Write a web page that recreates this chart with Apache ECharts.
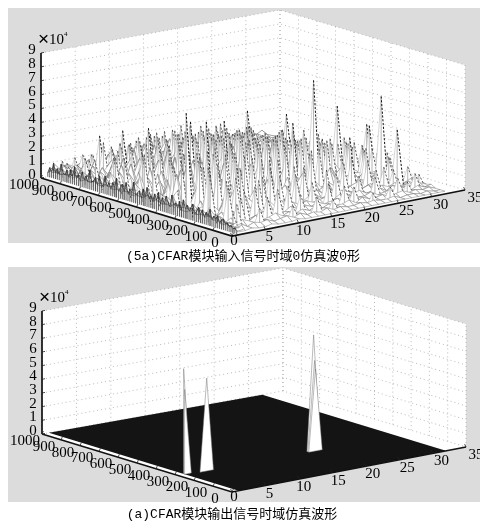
<!DOCTYPE html>
<html><head><meta charset="utf-8">
<style>html,body{margin:0;padding:0;background:#fff}#c{width:480px;height:522px;filter:blur(0.5px)}</style>
<script src="https://cdn.jsdelivr.net/npm/echarts@6/dist/echarts.min.js"></script>
</head><body><div id="c"></div>
<script>
const xTicks=[0,5,10,15,20,25,30,35];
const yTicks=[0,100,200,300,400,500,600,700,800,900,1000];
const zTicks=[0,1,2,3,4,5,6,7,8,9];
const captionTop='(5a)CFAR模块输入信号时域0仿真波0形';
const captionBottom='(a)CFAR模块输出信号时域仿真波形';
const rowStep=25;
// Input surface: rows run from y=1000 down to y=0, columns x=1..32, values ×10^4
const inputRows=[
[.3,.5,.2,.6,.4,.3,.7,.4,.5,.3,.6,.8,.4,.5,.7,.3,.6,.4,.8,.5,.4,.7,.6,.3,.9,.5,.4,.6,.8,.4,.5,.3],
[.6,.3,.8,.4,.7,.5,.3,.9,.4,.6,1.0,.5,.7,.4,.9,.6,.5,1.1,.4,.8,.6,.5,1.0,.7,.4,.8,.6,.9,.3,.7,.4,.5],
[.4,.9,.5,.7,.3,1.1,.6,.5,1.2,.7,.4,1.3,.8,.6,1.1,.5,1.4,.7,.9,.5,1.2,.8,.4,1.1,.7,.5,1.0,.4,.8,.6,.9,.4],
[.8,.4,1.0,.5,1.2,.6,.9,1.4,.5,1.1,.8,.6,1.6,.7,.5,1.3,.9,.6,1.5,.8,.7,1.2,.6,.9,1.3,.7,.5,1.1,.6,.4,.7,.5],
[.5,1.1,.6,1.3,.7,1.5,.6,.8,1.7,.7,1.3,.9,.6,1.8,1.0,.7,1.2,1.6,.6,1.1,1.4,.7,1.0,.6,.8,1.2,.9,.5,1.0,.7,.5,.6],
[1.0,.6,1.4,.7,.9,.8,1.8,.6,1.1,1.5,.7,2.0,1.1,.8,1.4,.9,.7,1.9,1.0,.7,.9,1.5,.8,1.3,.6,.9,.7,1.2,.5,.8,.6,.4],
[.6,1.3,.8,1.6,1.0,1.3,.7,1.9,.9,.7,2.1,1.0,1.6,.8,.7,1.8,1.2,.9,.7,1.6,1.1,.8,1.7,.7,1.2,.7,1.0,.6,.9,.5,.7,.5],
[1.2,.7,1.7,.8,2.0,.9,1.5,1.0,2.2,1.3,.8,1.5,.9,2.3,1.2,.9,1.5,.8,2.0,.9,1.3,1.0,.7,1.4,.9,1.1,.6,.8,.7,1.0,.4,.6],
[.7,1.5,1.0,1.2,.8,2.0,1.1,.9,1.6,2.4,1.0,.8,1.9,1.1,1.7,.9,2.2,1.0,.8,1.4,.9,1.8,1.1,.7,1.5,.8,.9,1.1,.6,.7,.8,.5],
[1.4,.9,1.2,1.8,1.1,.8,2.3,1.4,.9,1.1,1.7,2.5,.9,1.2,.8,2.4,1.0,1.6,1.2,.9,1.9,.7,1.3,1.0,.8,1.3,.7,.6,1.0,.5,.6,.4],
[.8,1.6,.9,2.1,1.1,1.5,.9,1.9,1.3,.9,2.0,1.0,1.4,2.6,1.1,.9,1.8,1.2,2.1,.8,1.1,1.5,.9,1.2,1.0,.7,1.2,.8,.7,.9,.5,.6],
[1.5,1.0,2.2,.9,1.3,2.6,1.0,1.2,2.7,1.0,1.4,.9,2.3,1.0,1.9,1.3,1.0,2.5,.9,1.6,1.0,1.2,1.9,.8,.9,1.4,.6,1.0,.8,.6,.7,.5],
[.9,1.9,1.2,1.6,2.4,.9,1.7,1.1,.9,2.8,1.2,1.9,1.0,1.5,.9,2.2,1.3,.9,1.7,1.1,2.4,1.2,1.0,1.3,1.6,.9,1.1,.7,.9,.8,.5,.6],
[1.7,1.0,2.5,1.1,.9,2.1,1.2,2.9,1.3,1.0,1.8,1.1,2.7,1.0,1.2,1.8,.9,2.3,1.1,1.4,1.0,.9,1.7,1.0,.8,1.5,.7,.9,1.2,.6,.8,.4],
[1.0,2.2,1.1,1.9,1.4,1.2,1.0,1.5,2.2,1.2,3.0,1.0,1.4,2.1,1.1,2.9,1.2,1.0,1.9,1.2,1.6,1.1,1.0,2.0,1.1,.8,1.3,.9,.7,1.0,.5,.6],
[1.9,1.1,1.4,2.6,1.0,1.7,2.8,1.1,1.9,1.0,1.3,2.5,1.1,3.1,1.3,1.0,2.0,1.4,1.0,2.6,1.0,1.3,1.9,.9,1.2,1.5,.8,1.1,.6,.9,.7,.5],
[1.1,2.5,1.0,1.6,3.0,1.2,1.0,2.3,1.3,3.2,1.0,1.7,1.1,1.4,2.4,1.1,1.7,1.2,2.2,1.0,1.3,2.1,1.1,1.4,1.0,.9,1.0,1.3,.8,.7,.9,.4],
[2.0,1.2,2.7,1.1,1.3,2.0,1.3,3.0,1.0,1.2,2.6,1.1,2.0,1.0,1.3,2.8,1.0,1.6,1.1,1.7,2.7,1.0,1.2,1.8,1.0,1.3,.8,.7,1.1,.6,.8,.5],
[1.2,1.8,1.3,2.2,1.0,3.3,1.1,1.4,2.1,1.3,1.0,3.4,1.2,2.3,1.1,1.5,2.1,1.1,3.0,1.1,1.0,1.6,2.3,1.0,1.1,1.6,.9,1.2,.7,1.0,.6,.7],
[2.3,1.1,1.6,2.9,1.3,1.1,2.4,1.0,1.7,2.8,1.3,1.1,2.0,1.0,2.9,1.2,1.0,2.4,1.2,1.0,2.0,1.2,1.0,2.6,.9,1.0,1.3,.8,1.0,.7,.5,.6],
[1.0,2.6,1.2,1.5,2.0,1.3,3.1,1.2,1.1,1.2,3.0,1.4,1.1,1.2,1.9,1.1,3.3,1.3,1.0,2.1,1.1,1.8,1.2,1.0,1.7,1.1,.7,1.4,.8,.6,.8,.4],
[2.1,1.3,2.4,1.1,3.2,1.0,1.5,1.3,2.5,1.1,1.8,2.6,1.0,1.4,2.6,1.0,1.4,1.8,1.1,2.9,1.2,1.0,1.5,2.2,.9,1.2,1.0,.7,.9,.5,.7,.5],
[1.3,1.9,1.1,2.8,1.2,1.8,2.9,1.0,1.3,3.5,1.1,1.0,1.9,3.0,1.1,1.3,2.3,1.0,1.6,1.1,1.4,2.5,1.0,1.2,1.0,1.8,.8,1.0,.6,.8,.5,.4],
[2.6,1.1,1.5,1.2,2.3,1.1,1.0,2.6,1.2,1.6,1.1,2.4,1.2,1.0,2.1,1.2,1.0,3.1,1.2,1.0,2.2,1.1,1.3,1.0,2.0,.8,1.1,.9,.7,.5,.8,.4],
[1.1,2.2,1.3,1.9,3.4,1.2,2.0,1.1,3.0,1.0,1.4,1.1,2.8,1.3,1.1,3.2,1.4,1.1,1.9,1.3,1.0,1.7,1.1,1.5,1.0,1.2,1.0,.7,1.0,.6,.5,.6],
[2.4,1.0,2.9,1.1,1.2,1.0,2.5,1.3,1.1,2.2,1.0,3.2,1.1,1.6,1.0,1.1,2.2,1.0,1.2,2.4,1.0,1.1,1.9,1.0,1.3,.8,1.0,1.2,.6,.9,.4,.5],
[1.2,1.7,1.0,2.3,1.3,2.8,1.0,1.5,1.9,1.2,2.4,1.0,1.3,2.5,1.0,1.9,1.1,1.3,1.1,1.0,1.3,2.0,1.0,1.1,1.6,.9,.7,1.0,.8,.7,.5,.4],
[3.0,1.2,1.4,1.1,2.6,1.0,1.2,3.1,1.0,1.2,1.0,2.7,1.0,1.1,2.9,1.0,1.4,2.6,1.0,1.2,2.8,1.0,1.2,1.5,.8,1.2,1.0,.7,.9,.5,.7,.4],
[1.0,2.0,1.1,3.3,1.0,1.4,2.2,1.0,1.3,2.5,1.1,1.5,2.1,1.0,1.3,1.1,2.3,1.0,1.6,1.0,1.1,1.3,2.2,.9,1.0,1.1,.7,1.2,.8,.6,.4,.5],
[1.2,1.1,1.8,1.3,1.2,2.6,1.0,1.2,2.9,1.0,1.3,1.0,3.0,1.2,1.0,2.4,1.0,1.2,1.0,1.2,1.0,1.1,1.0,1.5,.8,1.0,.9,.6,.8,.5,.6,.4],
[1.3,2.4,1.0,1.5,1.1,1.0,2.0,1.1,1.0,1.8,2.3,1.1,1.0,1.6,2.6,1.0,1.1,1.8,1.0,1.5,1.0,1.8,.9,1.0,1.2,.7,1.1,.8,.6,.7,.4,.5],
[.8,1.0,2.7,1.1,2.2,1.2,1.0,2.4,1.2,1.0,1.0,2.8,1.1,1.0,1.0,1.3,2.0,1.0,1.1,1.0,2.0,1.0,1.1,1.0,.7,1.2,.7,1.0,.5,.8,.5,.3],
[1.6,.7,1.2,.9,1.0,1.9,1.1,.9,1.6,1.0,2.2,.9,1.0,2.1,.8,1.0,1.0,1.5,.9,1.2,.8,1.0,1.4,.8,.9,.7,1.0,.9,.7,.4,.6,.4],
[.7,1.4,.8,1.8,.9,.8,1.5,1.0,.7,1.1,.8,1.4,1.7,.7,1.0,1.4,.7,.9,1.1,.7,1.3,.8,.7,1.0,.6,1.0,.6,.8,.5,.6,.3,.5],
[1.2,.6,1.5,.7,1.2,1.1,.7,1.3,.9,1.6,.7,.9,.8,1.2,.7,.8,1.1,.7,.8,1.0,.6,.9,1.1,.6,.8,.5,.9,.5,.7,.4,.6,.3],
[.6,1.0,.7,.8,1.4,.6,.9,.7,1.2,.7,1.0,.7,1.1,.6,.9,1.0,.6,.8,.6,.9,.7,.6,.7,.9,.5,.7,.5,.7,.4,.6,.3,.4],
[.9,.5,1.1,.6,.7,1.0,.6,1.0,.6,.8,.6,.9,.6,.8,.6,.7,.8,.5,.8,.6,.7,.8,.5,.6,.7,.4,.7,.4,.6,.3,.5,.3],
[.5,.8,.5,1.0,.5,.7,.8,.5,.7,.5,.8,.5,.7,.5,.7,.5,.6,.7,.4,.7,.5,.5,.7,.4,.5,.6,.3,.6,.3,.5,.3,.4],
[.7,.4,.7,.5,.8,.4,.5,.7,.4,.6,.4,.6,.4,.6,.4,.6,.4,.4,.6,.3,.6,.4,.4,.5,.3,.4,.5,.3,.4,.3,.4,.2],
[.4,.6,.3,.5,.4,.5,.3,.4,.5,.3,.5,.3,.4,.3,.5,.3,.4,.3,.3,.4,.3,.4,.3,.3,.4,.2,.3,.3,.2,.3,.2,.2],
[.2,.2,.3,.2,.2,.3,.2,.2,.2,.3,.2,.2,.2,.2,.2,.2,.2,.2,.2,.2,.2,.2,.2,.2,.2,.2,.2,.2,.2,.2,.2,.2]
];
// Narrow clutter ridges, one band per y value
const ridgeY=[960,930,900,870,840,810,780,750,720,690,660,630,600,570,540,510,480,450,420,390,360,330,300,270,240,210,180,150,120,90,60,30,
945,915,885,855,825,795,765,735,705,675,645,615,585,555,525,495,465,435,405,375,345,315,285,255,225,195,165,135,105,75,45];
const ridgeX=[[2,5,9],[3,7,12,18],[1,6,10,15],[4,8,13,20,25],[2,6,11,16,23],[5,9,14,19,27],[3,7,12,17,22],[1,6,10,15,20,26],[4,8,13,18,24],[2,6,11,16,21,28],[5,9,14,19,25],[3,7,12,17,23],[1,6,10,15,20,27],[4,8,13,18,24],[2,6,11,16,22,29],[5,9,14,19,26],[3,7,12,17,23,30],[1,5,10,15,21,28],[4,8,13,18,25],[2,6,11,16,22,29],[5,9,14,20,26],[3,7,12,17,24,31],[1,6,10,15,22,28],[4,8,13,18,25],[2,6,11,16,21,30],[5,9,14,19,26],[3,7,12,17,23],[1,5,10,15,21,27],[4,8,13,19,25],[2,6,11,17,24,30],[3,7,12,20,28],[1,5,10,16,22],
[14,22],[5,16,24],[9,18,28],[3,12,22],[8,17,25],[11,21,30],[5,14,24],[9,19,28],[3,12,23],[7,17,27],[1,10,21,31],[4,15,25],[9,19,29],[3,13,23,31],[7,17,27],[1,11,21],[6,16,26,31],[3,12,23,29],[9,19,27],[2,13,24,30],[7,16,28],[4,11,20,26,31],[8,17,23,29],[3,14,27],[7,12,18,30],[2,10,22,29],[6,14,25,31],[3,11,18,28],[7,15,22,31],[4,9,19,27],[2,14,25]];
const ridgeZ=[[1.2,1.4,1.2],[1.5,1.7,1.9,1.4],[1.4,2.0,1.8,2.1],[1.8,2.3,2.4,1.6,1.5],[1.9,2.2,2.6,2.5,1.7],[2.6,2.9,3.0,2.2,1.4],[3.2,2.8,3.2,2.7,2.1],[2.0,2.9,3.4,3.1,2.6,1.6],[3.0,3.5,2.9,3.2,1.9],[2.5,3.1,3.7,3.4,2.7,1.5],[3.6,3.3,3.9,2.8,2.2],[3.3,3.8,3.5,3.6,2.4],[3.0,3.9,4.1,3.3,3.0,1.9],[3.5,4.2,3.8,3.4,2.5],[3.4,3.7,4.3,3.9,3.0,1.8],[3.9,4.4,4.0,3.4,2.3],[3.8,4.5,4.1,3.5,2.8,1.5],[3.3,4.2,4.5,4.2,3.1,2.0],[4.4,3.9,4.7,3.6,2.6],[3.7,4.6,4.0,4.3,3.2,2.1],[4.0,4.7,3.8,3.5,2.7],[4.2,4.9,4.4,3.9,3.4,1.7],[4.0,4.5,5.0,4.5,3.7,2.5],[4.6,4.1,4.8,4.2,3.2],[4.4,4.9,4.6,5.0,3.9,2.2],[4.5,3.9,4.2,3.6,3.0],[4.1,4.3,3.6,3.8,2.8],[3.6,3.8,3.3,2.9,2.6,1.8],[3.3,3.0,2.6,2.2,1.9],[2.9,2.6,2.2,1.8,1.6,1.3],[2.2,1.9,1.6,1.4,1.0],[1.4,1.4,1.1,1.0,.9],
[1.3,1.0],[1.6,1.7,1.2],[2.0,1.9,1.0],[1.6,2.7,1.8],[2.4,2.9,1.5],[2.6,2.4,1.0],[3.0,3.5,2.0],[2.7,3.3,1.4],[2.9,3.3,2.6],[3.7,2.9,1.9],[2.8,3.0,3.1,1.2],[3.1,4.0,2.6],[3.5,3.7,1.7],[4.0,3.2,3.2,1.5],[3.6,4.1,2.5],[3.7,3.9,3.5],[3.4,4.4,3.0,1.6],[3.4,3.8,3.7,2.6],[4.3,4.2,2.9],[3.2,3.9,3.1,2.2],[3.8,4.0,2.7],[3.7,4.4,3.9,3.0,2.0],[4.6,3.8,3.3,2.4],[3.6,4.5,2.6],[4.1,3.4,3.3,1.9],[3.9,3.7,2.7,2.1],[3.5,3.0,2.4,1.4],[3.1,2.7,2.5,1.6],[2.9,2.0,1.8,1.1],[2.5,2.2,1.5,1.3],[1.9,1.3,1.0]];
// Tallest peaks
const peakX=[3,5,22,6,25,8,13,27,19,30,29,1,4,20,24,28,29];
const peakY=[800,750,700,650,600,500,500,400,350,350,300,275,275,275,225,200,150];
const peakZ=[3.6,4,4.1,4.5,4,5.4,5,5.2,4.9,3.8,4,7.6,6.7,8.2,3.9,6.6,4.3];
// Dense clutter along the x=1 edge, every 10 units from y=1000 to y=10
const edgeRipple=[.3,.7,.4,1.1,.5,.8,.4,1.2,.6,.5,.9,.4,1.0,.6,1.3,.5,.8,.4,1.1,.6,.9,.5,1.4,.6,.7,1.0,.5,1.2,.7,.5,1.3,.6,.9,.5,1.0,.7,1.4,.5,.8,1.1,.6,1.3,.5,.9,.7,1.5,.6,.8,1.0,.5,1.2,.7,1.4,.6,.9,.5,1.1,.7,1.3,.5,1.0,.6,1.2,.8,.5,1.4,.7,.9,.6,1.1,.5,1.3,.7,1.0,.6,.9,1.2,.5,.8,1.1,.6,1.0,.5,.9,.7,1.2,.5,.8,.6,.9,.4,.7,.8,.5,.6,.4,.5,.3,.4,.2];
// Output detections
const outX=[1,1,4,20,20,20];
const outY=[290,285,275,280,275,270];
const outZ=[7.7,6.2,6.8,8.45,6.6,6.0];
const floorX=[1,32];

const panelA={F:[232,236],X:[465,190],Y:[41,178],B:[280,135],h:125,bg:[8,8,480,243]};
const panelB={F:[232,492],X:[466,447],Y:[42,434],B:[283,391],h:123,bg:[8,267,480,502]};
function P(p,x,y,z){
  const u=x/35,v=y/1000,k=u*v;
  return [p.F[0]+u*(p.X[0]-p.F[0])+v*(p.Y[0]-p.F[0])+k*(p.B[0]+p.F[0]-p.X[0]-p.Y[0]),
          p.F[1]+u*(p.X[1]-p.F[1])+v*(p.Y[1]-p.F[1])+k*(p.B[1]+p.F[1]-p.X[1]-p.Y[1])-z/9*p.h];
}
const layers=[];
function poly(list,pts,style){list.push({k:'p',pts,style});}
function line(list,pts,style){list.push({k:'l',pts,style});}
function text(list,pos,t,style){list.push({k:'t',pos,t,style});}
const dotted={stroke:'#a8a8a8',lineWidth:.8,lineDash:[1,3],fill:null};
const axisS={stroke:'#111',lineWidth:1.7,fill:null};
const tickFont='15px "Liberation Serif"';

function frame(p){
  const L=[];
  const b=p.bg;
  poly(L,[[b[0],b[1]],[b[2],b[1]],[b[2],b[3]],[b[0],b[3]]],{fill:'#dcdcdc'});
  poly(L,[P(p,0,1000,9),P(p,35,1000,9),P(p,35,0,9),P(p,35,0,0),P(p,0,0,0),P(p,0,1000,0)],{fill:'#fff'});
  zTicks.forEach(z=>{ line(L,[P(p,0,1000,z),P(p,35,1000,z),P(p,35,0,z)],dotted); });
  xTicks.forEach(x=>{ line(L,[P(p,x,1000,0),P(p,x,1000,9)],dotted); });
  yTicks.forEach(y=>{ line(L,[P(p,35,y,0),P(p,35,y,9)],dotted); });
  return L;
}
function axes(p){
  const L=[];
  line(L,[P(p,0,1000,0),P(p,0,1000,9)],axisS);
  line(L,[P(p,0,1000,0),P(p,0,0,0),P(p,35,0,0)],axisS);
  const tk={stroke:'#222',lineWidth:.8,fill:null};
  zTicks.forEach(z=>{const q=P(p,0,1000,z);line(L,[q,[q[0]+3,q[1]-.6]],tk);
    text(L,[q[0]-9,q[1]-3],String(z),{font:'15px "Liberation Serif"',fill:'#000',align:'center',verticalAlign:'middle'});});
  yTicks.forEach(y=>{const q=P(p,0,y,0);line(L,[q,[q[0]+1.4,q[1]-3]],tk);
    text(L,[q[0]-17,q[1]+7],String(y),{font:tickFont,fill:'#000',align:'center',verticalAlign:'middle'});});
  xTicks.forEach(x=>{const q=P(p,x,0,0);line(L,[q,[q[0]-1.4,q[1]-3]],tk);
    text(L,[q[0]+(x===0?2:3+x/5),q[1]+(x===0?5:8)],String(x),{font:tickFont,fill:'#000',align:'center',verticalAlign:'middle'});});
  const z9=P(p,0,1000,9);
  text(L,[z9[0]-3,z9[1]-13],'{a|×}{b|10}{c|4}',{fill:'#000',align:'left',verticalAlign:'middle',
    rich:{a:{font:'19px "Liberation Sans"',fill:'#000'},b:{font:'15px "Liberation Serif"',fill:'#000'},c:{font:'7px "Liberation Serif"',fill:'#000',verticalAlign:'top',padding:[0,0,5,0]}}});
  return L;
}
function tent(L,p,x,y,z,dark){
  const lo=Math.max(x-1,1),hi=x+1;
  const a=P(p,lo,y,0),t=P(p,x,y,z),b=P(p,hi,y,0);
  poly(L,[a,t,b],{fill:'#fff'});
  line(L,[P(p,x,y,0),t],{stroke:'#a2a2a2',lineWidth:.8,fill:null});
  line(L,[a,t],{stroke:'#b0b0b0',lineWidth:.5,fill:null});
  line(L,[t,b],{stroke:dark?'#111':'#2b2b2b',lineWidth:dark?1:.75,lineDash:[2.2,1.6],fill:null});
}
function meshLayer(p){
  const L=[];
  const st={fill:'#fff',stroke:'#7d7d7d',lineWidth:.5};
  const tents=[];
  ridgeY.forEach((y,i)=>ridgeX[i].forEach((x,j)=>tents.push({x,y,z:ridgeZ[i][j],dark:false})));
  peakY.forEach((y,i)=>tents.push({x:peakX[i],y:y,z:peakZ[i],dark:true}));
  for(let r=0;r<inputRows.length-1;r++){
    const y0=1000-r*rowStep,y1=y0-rowStep;
    for(let c=inputRows[r].length-2;c>=0;c--){
      poly(L,[P(p,c+1,y0,inputRows[r][c]),P(p,c+2,y0,inputRows[r][c+1]),P(p,c+2,y1,inputRows[r+1][c+1]),P(p,c+1,y1,inputRows[r+1][c])],st);
    }
    tents.filter(t=>t.y<=y0&&t.y>y1).sort((a,b)=>b.y-a.y||b.x-a.x).forEach(t=>tent(L,p,t.x,t.y,t.z,t.dark));
  }
  return L;
}
function edgeLayer(p){
  const L=[];
  const st={stroke:'#2a2a2a',lineWidth:.75,fill:null};
  const pts=edgeRipple.map((z,i)=>P(p,1,1000-i*10,z));
  edgeRipple.forEach((z,i)=>{const y=1000-i*10;
    line(L,[P(p,1,y,0),P(p,1,y,z)],st);
    line(L,[P(p,1,y,z),P(p,2,y,edgeRipple[(i+7)%edgeRipple.length]*.6)],{stroke:'#555',lineWidth:.5,fill:null});
  });
  line(L,pts,st);
  return L;
}
function outLayer(p){
  const L=[];
  poly(L,[P(p,floorX[0],0,0),P(p,floorX[1],0,0),P(p,floorX[1],1000,0),P(p,floorX[0],1000,0)],{fill:'#141414'});
  const order=outY.map((_,i)=>i).sort((a,b)=>outY[b]-outY[a]);
  order.forEach(i=>{
    const x=outX[i],y=outY[i],z=outZ[i],lo=Math.max(x-1,1);
    poly(L,[P(p,lo,y,0),P(p,x,y,z),P(p,x+1,y,0)],{fill:'#fff',stroke:'#777',lineWidth:.5});
  });
  return L;
}
function captionLayer(){
  const L=[];const f='13px "Liberation Mono","Noto Sans CJK SC"';
  text(L,[243,257],captionTop,{font:f,fill:'#000',align:'center',verticalAlign:'middle'});
  text(L,[232,515],captionBottom,{font:f,fill:'#000',align:'center',verticalAlign:'middle'});
  return L;
}
layers.push(frame(panelA),meshLayer(panelA),edgeLayer(panelA),axes(panelA),frame(panelB),outLayer(panelB),axes(panelB),captionLayer());

function render(shapes){
  return function(params,api){
    const s=shapes[params.dataIndex];
    if(s.k==='t'){const q=api.coord(s.pos);
      return {type:'text',style:Object.assign({text:s.t,x:q[0],y:q[1]},s.style)};}
    const pts=s.pts.map(q=>api.coord(q));
    if(s.k==='p') return {type:'polygon',shape:{points:pts},style:Object.assign({},s.style)};
    return {type:'polyline',shape:{points:pts},style:Object.assign({},s.style)};
  };
}
const chart=echarts.init(document.getElementById('c'),null,{renderer:'canvas',width:480,height:522});
chart.setOption({
  animation:false,backgroundColor:'#fff',
  grid:{left:0,right:0,top:0,bottom:0},
  xAxis:{type:'value',min:0,max:480,show:false},
  yAxis:{type:'value',min:0,max:522,inverse:true,show:false},
  series:layers.map((shapes,i)=>({type:'custom',coordinateSystem:'cartesian2d',silent:true,clip:false,z:i+2,progressive:0,
    data:shapes.map((_,j)=>[j]),encode:{x:0,y:0},renderItem:render(shapes)}))
});
</script></body></html>
